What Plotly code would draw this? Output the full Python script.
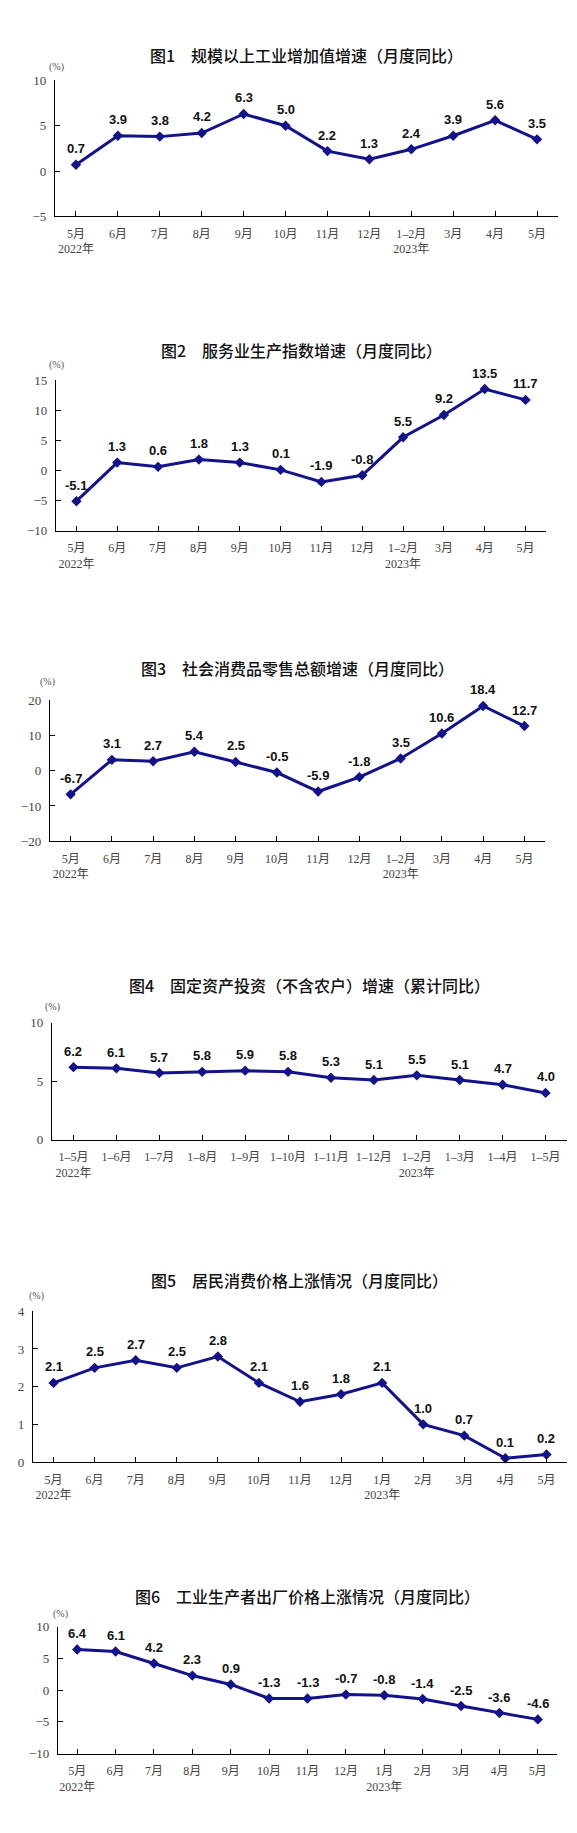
import plotly.graph_objects as go

W, H = 577, 1833

titles = [
    "图1　规模以上工业增加值增速（月度同比）",
    "图2　服务业生产指数增速（月度同比）",
    "图3　社会消费品零售总额增速（月度同比）",
    "图4　固定资产投资（不含农户）增速（累计同比）",
    "图5　居民消费价格上涨情况（月度同比）",
    "图6　工业生产者出厂价格上涨情况（月度同比）",
]

cats1 = ["5月", "6月", "7月", "8月", "9月", "10月", "11月", "12月", "1–2月", "3月", "4月", "5月"]
cats4 = ["1–5月", "1–6月", "1–7月", "1–8月", "1–9月", "1–10月", "1–11月", "1–12月", "1–2月", "1–3月", "1–4月", "1–5月"]
cats5 = ["5月", "6月", "7月", "8月", "9月", "10月", "11月", "12月", "1月", "2月", "3月", "4月", "5月"]

vals1 = [0.7, 3.9, 3.8, 4.2, 6.3, 5.0, 2.2, 1.3, 2.4, 3.9, 5.6, 3.5]
vals2 = [-5.1, 1.3, 0.6, 1.8, 1.3, 0.1, -1.9, -0.8, 5.5, 9.2, 13.5, 11.7]
vals3 = [-6.7, 3.1, 2.7, 5.4, 2.5, -0.5, -5.9, -1.8, 3.5, 10.6, 18.4, 12.7]
vals4 = [6.2, 6.1, 5.7, 5.8, 5.9, 5.8, 5.3, 5.1, 5.5, 5.1, 4.7, 4.0]
vals5 = [2.1, 2.5, 2.7, 2.5, 2.8, 2.1, 1.6, 1.8, 2.1, 1.0, 0.7, 0.1, 0.2]
vals6 = [6.4, 6.1, 4.2, 2.3, 0.9, -1.3, -1.3, -0.7, -0.8, -1.4, -2.5, -3.6, -4.6]

year_idx = (0, 8)

ranges = [(-5, 10), (-10, 15), (-20, 20), (0, 10), (0, 4), (-10, 10)]
dticks = [5, 5, 10, 5, 1, 5]

# pixel geometry: (x_left, x_right, y_top_value, y_bottom_value, title_y, pct_x, pct_y)
geo = [
    (47, 550, 66, 203, 40, 48, 52),
    (48, 538, 368, 520, 338, 48, 353),
    (42, 537, 691, 833, 658, 39, 673),
    (44, 559, 1016, 1134, 978, 44, 1000),
    (25, 559, 1307, 1459, 1275, 28, 1292),
    (50, 549, 1625, 1753, 1594, 52, 1612),
]

series = [
    (cats1, vals1),
    (cats1, vals2),
    (cats1, vals3),
    (cats4, vals4),
    (cats5, vals5),
    (cats5, vals6),
]

LINE = "#12128a"
SERIF = "Liberation Serif, Noto Sans CJK SC, serif"
SANS = "Liberation Sans, Arial, sans-serif"

fig = go.Figure()
annotations = []
layout_axes = {}

for i, ((cats, vals), (xl, xr, yt, yb, ty, px, py), rng, dt, title) in enumerate(
        zip(series, geo, ranges, dticks, titles)):
    n = i + 1
    xa = "x" if n == 1 else f"x{n}"
    ya = "y" if n == 1 else f"y{n}"
    xs = list(range(len(cats)))
    ticktext = []
    for k, c in enumerate(cats):
        if k == year_idx[0]:
            ticktext.append(c + "<br>2022年")
        elif k == year_idx[1]:
            ticktext.append(c + "<br>2023年")
        else:
            ticktext.append(c)
    fig.add_trace(go.Scatter(
        x=xs, y=vals, mode="lines+markers",
        line=dict(color=LINE, width=3),
        marker=dict(symbol="diamond", size=8, color=LINE),
        xaxis=xa, yaxis=ya, showlegend=False, cliponaxis=False,
        hoverinfo="skip",
    ))
    for xv, v in zip(xs, vals):
        annotations.append(dict(
            x=xv, y=v, xref=xa, yref=ya, text=f"{v:.1f}", showarrow=False,
            yshift=16, xanchor="center", yanchor="middle",
            font=dict(family=SANS, size=13, color="#111111", weight="bold"),
        ))
    layout_axes[("xaxis" if n == 1 else f"xaxis{n}")] = dict(
        domain=[xl / W, xr / W],
        anchor=ya,
        range=[-0.5, len(cats) - 0.5],
        tickmode="array", tickvals=xs, ticktext=ticktext,
        tickson="boundaries",
        ticks="inside", ticklen=5, tickcolor="#000", tickwidth=1,
        showline=True, linecolor="#000", linewidth=1.2,
        showgrid=False, zeroline=False,
        tickfont=dict(family=SERIF, size=12, color="#444"),
        ticklabelstandoff=6,
        fixedrange=True,
    )
    layout_axes[("yaxis" if n == 1 else f"yaxis{n}")] = dict(
        domain=[1 - yb / H, 1 - yt / H],
        anchor=xa,
        range=list(rng), dtick=dt, tick0=rng[0],
        ticks="inside", ticklen=5, tickcolor="#000", tickwidth=1,
        showline=True, linecolor="#000", linewidth=1.2,
        showgrid=False, zeroline=False,
        tickfont=dict(family=SERIF, size=13, color="#444"),
        ticklabelstandoff=5,
        fixedrange=True,
    )
    annotations.append(dict(
        x=(xl + xr) / 2 / W, y=1 - ty / H, xref="paper", yref="paper",
        text=title, showarrow=False, xanchor="center", yanchor="middle",
        font=dict(family="Noto Sans CJK SC, sans-serif", size=16, color="#111", weight=500),
    ))
    annotations.append(dict(
        x=px / W, y=1 - py / H, xref="paper", yref="paper",
        text="(%)", showarrow=False, xanchor="center", yanchor="middle",
        font=dict(family=SERIF, size=10, color="#555"),
    ))

fig.update_layout(
    width=W, height=H,
    margin=dict(l=0, r=0, t=0, b=0),
    paper_bgcolor="white", plot_bgcolor="white",
    annotations=annotations,
    **layout_axes,
)

fig.write_html("out.html")
